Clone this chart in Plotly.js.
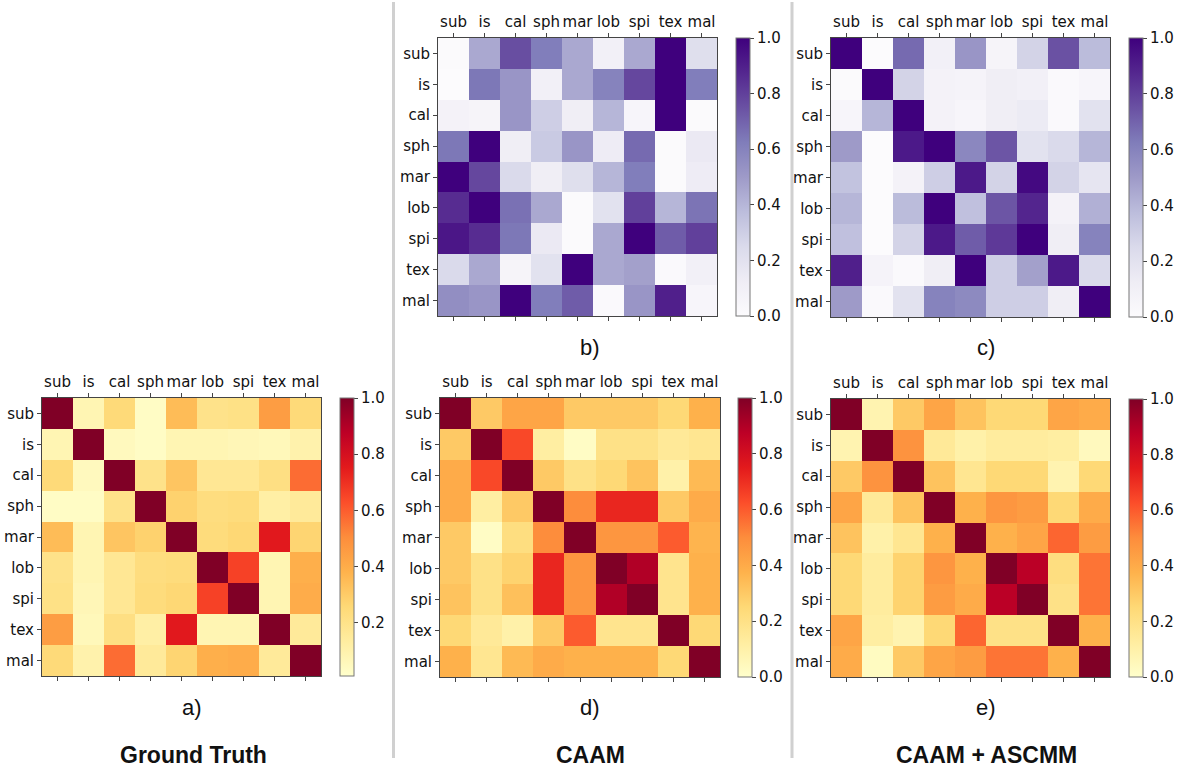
<!DOCTYPE html>
<html>
<head>
<meta charset="utf-8">
<script src="https://cdn.plot.ly/plotly-3.0.1.min.js"></script>
<style>html,body{margin:0;padding:0;background:#fff;}#chart{width:1182px;height:771px;}</style>
</head>
<body>
<div id="chart"></div>
<script>
const labels = ["sub","is","cal","sph","mar","lob","spi","tex","mal"];

const groundTruth = [
  [1.00,0.08,0.25,0.03,0.35,0.20,0.21,0.45,0.25],
  [0.08,1.00,0.05,0.03,0.08,0.08,0.07,0.06,0.10],
  [0.25,0.05,1.00,0.20,0.32,0.17,0.17,0.22,0.57],
  [0.03,0.03,0.20,1.00,0.28,0.23,0.24,0.12,0.15],
  [0.35,0.08,0.32,0.28,1.00,0.24,0.26,0.76,0.27],
  [0.20,0.08,0.17,0.23,0.24,1.00,0.66,0.08,0.39],
  [0.21,0.07,0.17,0.24,0.26,0.66,1.00,0.08,0.40],
  [0.45,0.06,0.22,0.12,0.76,0.08,0.08,1.00,0.15],
  [0.25,0.10,0.57,0.15,0.27,0.39,0.40,0.15,1.00]
];

const caamPurple = [
  [0.01,0.45,0.76,0.62,0.45,0.10,0.45,1.00,0.22],
  [0.00,0.64,0.52,0.10,0.45,0.60,0.78,1.00,0.62],
  [0.08,0.06,0.52,0.30,0.12,0.40,0.05,1.00,0.01],
  [0.64,1.00,0.12,0.32,0.52,0.13,0.68,0.01,0.15],
  [1.00,0.78,0.25,0.12,0.22,0.40,0.62,0.01,0.13],
  [0.86,1.00,0.66,0.45,0.01,0.20,0.80,0.40,0.65],
  [0.93,0.86,0.64,0.15,0.01,0.45,1.00,0.72,0.80],
  [0.25,0.45,0.06,0.20,1.00,0.45,0.48,0.02,0.10],
  [0.55,0.52,1.00,0.62,0.72,0.02,0.52,0.90,0.05]
];

const caamAscmmPurple = [
  [1.00,0.00,0.68,0.10,0.52,0.06,0.28,0.75,0.38],
  [0.01,1.00,0.28,0.08,0.07,0.12,0.10,0.02,0.05],
  [0.05,0.40,1.00,0.08,0.05,0.12,0.14,0.02,0.20],
  [0.50,0.00,0.92,1.00,0.58,0.74,0.20,0.25,0.40],
  [0.35,0.00,0.08,0.30,0.92,0.28,0.97,0.28,0.18],
  [0.40,0.00,0.38,1.00,0.36,0.74,0.88,0.08,0.42],
  [0.36,0.00,0.28,0.92,0.72,0.82,1.00,0.12,0.60],
  [0.90,0.07,0.02,0.12,1.00,0.30,0.48,0.92,0.25],
  [0.50,0.02,0.20,0.60,0.57,0.30,0.30,0.12,1.00]
];

const caam = [
  [1.00,0.30,0.42,0.42,0.30,0.30,0.30,0.25,0.38],
  [0.30,1.00,0.64,0.12,0.02,0.20,0.20,0.15,0.17],
  [0.40,0.64,1.00,0.30,0.20,0.25,0.32,0.10,0.35],
  [0.40,0.12,0.30,1.00,0.50,0.72,0.72,0.30,0.40],
  [0.30,0.02,0.22,0.50,1.00,0.47,0.47,0.60,0.37],
  [0.30,0.20,0.27,0.72,0.47,1.00,0.90,0.18,0.38],
  [0.32,0.20,0.33,0.72,0.47,0.90,1.00,0.18,0.38],
  [0.25,0.15,0.10,0.30,0.60,0.18,0.18,1.00,0.25],
  [0.38,0.17,0.35,0.40,0.38,0.38,0.38,0.25,1.00]
];

const caamAscmm = [
  [1.00,0.08,0.30,0.42,0.32,0.25,0.25,0.42,0.40],
  [0.08,1.00,0.48,0.15,0.10,0.13,0.13,0.12,0.04],
  [0.30,0.48,1.00,0.32,0.17,0.25,0.25,0.08,0.25],
  [0.42,0.15,0.32,1.00,0.38,0.47,0.45,0.25,0.40],
  [0.32,0.10,0.17,0.38,1.00,0.38,0.42,0.58,0.45],
  [0.25,0.13,0.27,0.47,0.38,1.00,0.88,0.22,0.55],
  [0.25,0.13,0.27,0.45,0.40,0.88,1.00,0.20,0.55],
  [0.42,0.12,0.08,0.25,0.58,0.20,0.20,1.00,0.38],
  [0.40,0.03,0.30,0.42,0.45,0.55,0.55,0.38,1.00]
];

const panelLetters = ["a)","b)","c)","d)","e)"];
const columnTitles = ["Ground Truth","CAAM","CAAM + ASCMM"];

// ---- styling ----
const W = 1182, H = 771;
const YlOrRd = [[0,"#ffffcc"],[0.125,"#ffeda0"],[0.25,"#fed976"],[0.375,"#feb24c"],[0.5,"#fd8d3c"],[0.625,"#fc4e2a"],[0.75,"#e31a1c"],[0.875,"#bd0026"],[1,"#800026"]];
const Purples = [[0,"#fcfbfd"],[0.125,"#efedf5"],[0.25,"#dadaeb"],[0.375,"#bcbddc"],[0.5,"#9e9ac8"],[0.625,"#807dba"],[0.75,"#6a51a3"],[0.875,"#54278f"],[1,"#3f007d"]];
const tickFont = {family:"DejaVu Sans", size:15, color:"#111"};

// panel boxes in pixels: [left,right,top,bottom]
const panels = [
  {z:groundTruth, cs:YlOrRd, box:[42,321,398,676], cb:340, zmin:0.01},
  {z:caamPurple, cs:Purples, box:[438,717,38,316], cb:736, zmin:0},
  {z:caamAscmmPurple, cs:Purples, box:[831,1110,38,317], cb:1129, zmin:0},
  {z:caam, cs:YlOrRd, box:[440,720,398,677], cb:738, zmin:0},
  {z:caamAscmm, cs:YlOrRd, box:[831,1110,399,677], cb:1129, zmin:0}
];

const data = [];
const layout = {
  width:W, height:H, margin:{l:0,r:0,t:0,b:0},
  paper_bgcolor:"#fff", plot_bgcolor:"#fff",
  showlegend:false, annotations:[], shapes:[]
};

panels.forEach((p,i)=>{
  const n = i+1;
  const xa = n===1 ? "x" : "x"+n;
  const ya = n===1 ? "y" : "y"+n;
  const [l,r,t,b] = p.box;
  data.push({
    type:"heatmap", x:labels, y:labels, z:p.z, xaxis:xa, yaxis:ya,
    colorscale:p.cs, zmin:p.zmin, zmax:1, xgap:0, ygap:0,
    colorbar:{
      x:p.cb/W, xanchor:"left", xpad:0, ypad:0,
      y:1-t/H, yanchor:"top", len:(b-t), lenmode:"pixels",
      thickness:14, thicknessmode:"pixels",
      outlinewidth:1, outlinecolor:"#777",
      tickvals:[0,0.2,0.4,0.6,0.8,1.0], ticktext:["0.0","0.2","0.4","0.6","0.8","1.0"],
      ticks:"outside", ticklen:4, tickcolor:"#444", tickfont:tickFont
    }
  });
  layout["xaxis"+(n===1?"":n)] = {
    domain:[l/W, r/W], anchor:ya, side:"top", type:"category",
    categoryorder:"array", categoryarray:labels,
    showgrid:false, zeroline:false, showline:true, linecolor:"#444", linewidth:1,
    mirror:"ticks", ticks:"outside", ticklen:4, tickcolor:"#444",
    tickfont:tickFont, fixedrange:true
  };
  layout["yaxis"+(n===1?"":n)] = {
    domain:[1-b/H, 1-t/H], anchor:xa, type:"category",
    categoryorder:"array", categoryarray:labels, autorange:"reversed",
    showgrid:false, zeroline:false, showline:true, linecolor:"#444", linewidth:1,
    mirror:true, ticks:"outside", ticklen:4, tickcolor:"#444",
    tickfont:tickFont, fixedrange:true
  };
});

// panel letters
const letterPos = [[192,707],[590,348],[986,348],[590,707],[986,707]];
panelLetters.forEach((s,i)=>{
  layout.annotations.push({
    text:s, xref:"paper", yref:"paper", x:letterPos[i][0]/W, y:1-letterPos[i][1]/H,
    xanchor:"center", yanchor:"middle", showarrow:false,
    font:{family:"Liberation Sans, Arial", size:22, color:"#111"}
  });
});
const titleX = [193,590,986];
columnTitles.forEach((s,i)=>{
  layout.annotations.push({
    text:"<b>"+s+"</b>", xref:"paper", yref:"paper", x:titleX[i]/W, y:1-755/H,
    xanchor:"center", yanchor:"middle", showarrow:false,
    font:{family:"Liberation Sans, Arial", size:23, color:"#111"}
  });
});

// separators
[393.5, 792].forEach(xp=>{
  layout.shapes.push({type:"line", xref:"paper", yref:"paper",
    x0:xp/W, x1:xp/W, y0:1-2/H, y1:1-758/H, line:{color:"#d0d0d0", width:3}});
});

Plotly.newPlot("chart", data, layout, {staticPlot:true, displayModeBar:false});
</script>
</body>
</html>
